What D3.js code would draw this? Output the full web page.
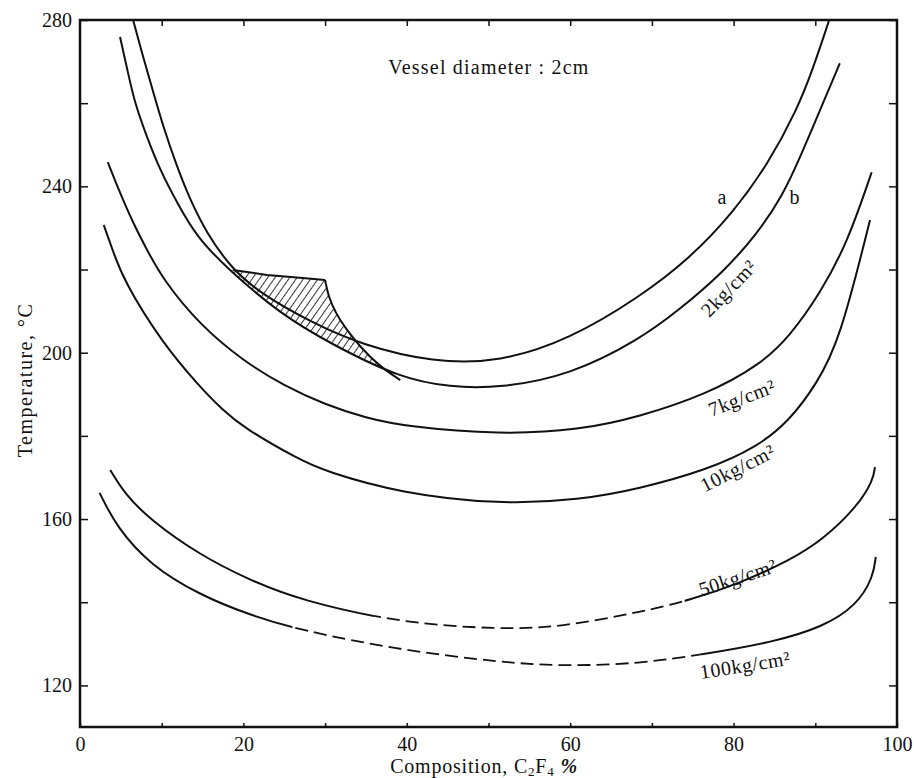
<!DOCTYPE html>
<html>
<head>
<meta charset="utf-8">
<script src="https://cdn.jsdelivr.net/npm/d3@7"></script>
<style>
  body { margin: 0; background: #fff; }
  text { font-family: "Liberation Serif", "DejaVu Serif", serif; fill: #111; }
</style>
</head>
<body>
<script>
// ticks
var xTicks = [0, 20, 40, 60, 80, 100]
var yTicks = [120, 160, 200, 240, 280]

// curves: [composition %, temperature C]
var curveA = [[6.5,280],[7.6,272],[8.8,263.8],[10.2,254.2],[11.9,244.6],[13.5,236.7],[15.5,228.8],[18.4,220.6],[21.8,214.6],[28.2,207.4],[34.6,201.8],[43.2,197.7],[51.4,197.7],[60,203.3],[68.5,213.4],[74.7,222.8],[79.9,233.6],[84.2,245.3],[87.8,258.6],[89.7,268.2],[91.7,280]]
var curveB = [[4.9,275.9],[5.8,268],[6.7,260],[8.2,251.8],[9.8,243.9],[11.9,236],[14.3,227.8],[18,220.3],[24.5,209.3],[31,201.8],[39.2,193.9],[45.3,191.7],[51.4,191.5],[60,194.6],[68.5,203.2],[73.4,210.4],[78.7,219.3],[82.9,228.6],[86,237.8],[88.1,246.8],[90.9,259.8],[93,269.6]]
var curve7 = [[3.4,245.8],[4.9,238.4],[6.5,231.2],[8.2,224.7],[10.2,217.5],[14.7,206.6],[20,198],[25,192],[30,187.5],[35,184.3],[40,182.2],[51.4,180.3],[61.2,181.4],[68.5,184.6],[76.7,190],[83.2,197],[86.9,204],[90.6,214.3],[93.9,226.3],[96.9,243.4]]
var curve10 = [[2.9,230.7],[4,224.7],[5.3,217.5],[10,202.5],[14.7,191.7],[17.5,186.2],[20,182],[26.9,174.2],[30,171.5],[39.2,166.2],[51.4,163.5],[61.2,164.6],[68.5,167.3],[76.7,171.8],[82.9,177.3],[86.9,183.8],[90.2,192.6],[93,203],[96.7,231.9]]
var curve50 = [[3.7,171.8],[5.5,166],[8.6,159.8],[14.7,151.3],[20.8,145.3],[26.9,140.5],[39.2,135],[51.4,133.5],[58.8,134],[68.5,137.6],[74.7,140.5],[80.8,144.6],[86.9,150.1],[90.9,155],[95.1,162.9],[97.1,169.4],[97.3,172.5]]
var curve100 = [[2.4,166.3],[4.5,158],[8.6,148.9],[14.7,141.7],[20.8,136.9],[26.9,133.3],[39.2,128.5],[51.4,125.6],[58.8,124.6],[68.5,125.2],[76.7,127.6],[84.8,130.4],[90.9,134],[95.1,139.3],[97.1,146.1],[97.4,150.9]]

// composition ranges where the line is dashed
var dashed50 = [36, 74]
var dashed100 = [26, 76]

// hatched zone outline: top edge, then right edge down to curve b
var hatchTop = [[18.7,219.9],[22.9,218.7],[26.9,218],[30,217.5]]
var hatchRight = [[30,217.5],[30.4,213.5],[31.3,209.5],[32.6,205.6],[34.3,201.4],[36.5,197],[39.2,193.4]]

// curve labels: text, composition, temperature, angle
var labels = [
  { t: "a", cx: 78.6, cy: 237.4, r: 0 },
  { t: "b", cx: 87.5, cy: 237.4, r: 0 },
  { t: "2kg/cm\u00b2", cx: 79.4, cy: 215.5, r: -46 },
  { t: "7kg/cm\u00b2", cx: 81.0, cy: 189.2, r: -21 },
  { t: "10kg/cm\u00b2", cx: 80.5, cy: 172.3, r: -27 },
  { t: "50kg/cm\u00b2", cx: 80.5, cy: 146, r: -18 },
  { t: "100kg/cm\u00b2", cx: 81.4, cy: 124.9, r: -9 }
]

;(function () {

var width = 914, height = 778
var mLeft = 80, mRight = 897, mTop = 20, mBottom = 727

var svg = d3.select("body").append("svg")
  .attr("width", width)
  .attr("height", height)

var x = d3.scaleLinear().domain([0, 100]).range([mLeft, mRight])
var y = d3.scaleLinear().domain([110, 280]).range([mBottom, mTop])

var line = d3.line()
  .x(function(d) { return x(d[0]) })
  .y(function(d) { return y(d[1]) })
  .curve(d3.curveBasis)

var straight = d3.line()
  .x(function(d) { return x(d[0]) })
  .y(function(d) { return y(d[1]) })

var defs = svg.append("defs")

defs.append("clipPath").attr("id", "plot")
  .append("rect")
  .attr("x", mLeft).attr("y", mTop)
  .attr("width", mRight - mLeft).attr("height", mBottom - mTop)

// hatch pattern
var pat = defs.append("pattern")
  .attr("id", "hatch")
  .attr("patternUnits", "userSpaceOnUse")
  .attr("width", 6).attr("height", 6)
  .attr("patternTransform", "rotate(35)")
pat.append("line")
  .attr("x1", 0).attr("y1", 0).attr("x2", 0).attr("y2", 6)
  .attr("stroke", "#111").attr("stroke-width", 1.7)

// clip: area above curve b
defs.append("clipPath").attr("id", "aboveB")
  .append("path")
  .attr("d", d3.area()
    .x(function(d) { return x(d[0]) })
    .y0(y(280))
    .y1(function(d) { return y(d[1]) })
    .curve(d3.curveBasis)(curveB))

var edge = hatchTop.concat(hatchRight.slice(1))
var hatchPoly = edge.concat([[edge[edge.length - 1][0], 150], [edge[0][0], 150]])

svg.append("path")
  .attr("d", straight(hatchPoly) + "Z")
  .attr("fill", "url(#hatch)")
  .attr("clip-path", "url(#aboveB)")

svg.append("path")
  .attr("d", straight(hatchTop))
  .attr("fill", "none")
  .attr("stroke", "#111")
  .attr("stroke-width", 2)

svg.append("path")
  .attr("d", line(hatchRight))
  .attr("fill", "none")
  .attr("stroke", "#111")
  .attr("stroke-width", 2)

var g = svg.append("g").attr("clip-path", "url(#plot)")

;[curveA, curveB, curve7, curve10].forEach(function(c) {
  g.append("path")
    .attr("d", line(c))
    .attr("fill", "none")
    .attr("stroke", "#111")
    .attr("stroke-width", 2)
})

// curves with a dashed stretch: draw twice with clips
function partCurve(c, range, id) {
  defs.append("clipPath").attr("id", id + "in")
    .append("rect")
    .attr("x", x(range[0])).attr("y", mTop)
    .attr("width", x(range[1]) - x(range[0])).attr("height", mBottom - mTop)
  var outside = defs.append("clipPath").attr("id", id + "out")
  outside.append("rect")
    .attr("x", mLeft).attr("y", mTop)
    .attr("width", x(range[0]) - mLeft).attr("height", mBottom - mTop)
  outside.append("rect")
    .attr("x", x(range[1])).attr("y", mTop)
    .attr("width", mRight - x(range[1])).attr("height", mBottom - mTop)

  svg.append("path")
    .attr("d", line(c))
    .attr("fill", "none")
    .attr("stroke", "#111")
    .attr("stroke-width", 2)
    .attr("clip-path", "url(#" + id + "out)")
  svg.append("path")
    .attr("d", line(c))
    .attr("fill", "none")
    .attr("stroke", "#111")
    .attr("stroke-width", 1.8)
    .attr("stroke-dasharray", "13 6")
    .attr("clip-path", "url(#" + id + "in)")
}
partCurve(curve50, dashed50, "c50")
partCurve(curve100, dashed100, "c100")

// frame
svg.append("rect")
  .attr("x", mLeft).attr("y", mTop)
  .attr("width", mRight - mLeft).attr("height", mBottom - mTop)
  .attr("fill", "none")
  .attr("stroke", "#111")
  .attr("stroke-width", 2.5)

// axes
var yAxisL = d3.axisLeft(y).tickValues(d3.range(120, 281, 20)).tickSize(-8).tickPadding(8)
  .tickFormat(function(d) { return yTicks.indexOf(d) >= 0 ? d : "" })
var yAxisR = d3.axisRight(y).tickValues(d3.range(120, 281, 20)).tickSize(-8).tickFormat("")
var xAxisB = d3.axisBottom(x).tickValues(d3.range(0, 101, 10)).tickSize(-4).tickPadding(10)
  .tickFormat(function(d) { return xTicks.indexOf(d) >= 0 ? d : "" })
var xAxisT = d3.axisTop(x).tickValues(d3.range(10, 100, 10)).tickSize(-6).tickFormat("")

function styleAxis(sel) {
  sel.select(".domain").remove()
  sel.selectAll(".tick line").attr("stroke", "#111").attr("stroke-width", 1.5)
  sel.selectAll("text").attr("font-size", 20).attr("fill", "#111")
    .attr("font-family", "Liberation Serif, serif")
}

svg.append("g").attr("transform", "translate(" + mLeft + ",0)").call(yAxisL).call(styleAxis)
svg.append("g").attr("transform", "translate(" + mRight + ",0)").call(yAxisR).call(styleAxis)
svg.append("g").attr("transform", "translate(0," + mBottom + ")").call(xAxisB).call(styleAxis)
svg.append("g").attr("transform", "translate(0," + mTop + ")").call(xAxisT).call(styleAxis)

// axis titles
svg.append("text")
  .attr("transform", "translate(32,380) rotate(-90)")
  .attr("text-anchor", "middle")
  .attr("font-size", 20)
  .attr("letter-spacing", 1.5)
  .text("Temperature, \u00b0C")

var xt = svg.append("text")
  .attr("x", 484).attr("y", 773)
  .attr("text-anchor", "middle")
  .attr("font-size", 20)
  .attr("letter-spacing", 0.8)
xt.append("tspan").text("Composition, C")
xt.append("tspan").attr("font-size", 13).attr("dy", 3).text("2")
xt.append("tspan").attr("dy", -3).text("F")
xt.append("tspan").attr("font-size", 13).attr("dy", 3).text("4")
xt.append("tspan").attr("dy", -3).attr("font-style", "italic").attr("font-weight", "bold").text(" %")

svg.append("text")
  .attr("x", 489).attr("y", 74)
  .attr("text-anchor", "middle")
  .attr("font-size", 20)
  .attr("letter-spacing", 1.2)
  .text("Vessel diameter : 2cm")

svg.selectAll(".lab")
  .data(labels)
  .enter().append("text")
  .attr("class", "lab")
  .attr("transform", function(d) {
    return "translate(" + x(d.cx) + "," + y(d.cy) + ") rotate(" + d.r + ")"
  })
  .attr("text-anchor", "middle")
  .attr("dy", "0.35em")
  .attr("font-size", 20)
  .attr("letter-spacing", 0.6)
  .text(function(d) { return d.t })

})()
</script>
</body>
</html>
